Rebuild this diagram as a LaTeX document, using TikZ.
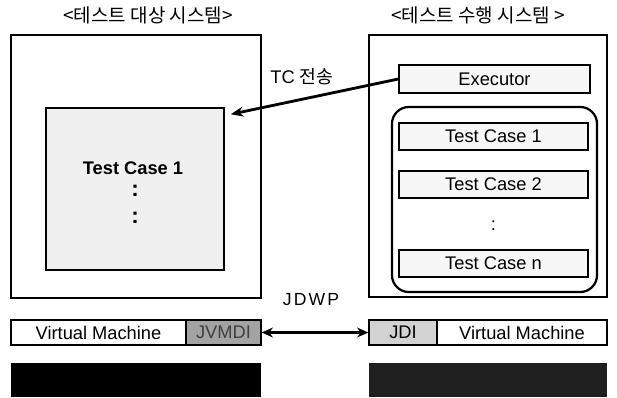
\documentclass[tikz,border=0pt]{standalone}
\usepackage{fontspec}
\setmainfont{Liberation Sans}
\newfontfamily\krfont{Noto Sans CJK KR}
\usepackage{xcolor}
\usetikzlibrary{arrows.meta,positioning,calc}

\tikzset{
  sysbox/.style={draw, line width=1.1pt, inner sep=0pt},
  casebox/.style={draw, line width=0.9pt, fill=gray!6, inner sep=0pt, minimum width=4.725cm, minimum height=0.675cm, font=\fontsize{13}{15}\selectfont},
  vmbox/.style={draw, line width=0.9pt, inner sep=0pt, minimum height=0.625cm, font=\fontsize{13}{15}\selectfont},
  hwbar/.style={fill=black, inner sep=0pt, minimum width=6.25cm, minimum height=0.85cm},
  vdots/.style={font=\fontsize{16}{19}\selectfont\bfseries, inner sep=0pt, align=center},
}

\begin{document}
\begin{tikzpicture}[x=0.025cm, y=-0.025cm]
  % Bounding box
  \useasboundingbox (0, 0) rectangle (617, 397);

  % Titles
  \node[font=\krfont\fontsize{13.5}{16}\selectfont] (ttarget) at (148, 15) {<테스트 대상 시스템>};
  \node[font=\krfont\fontsize{13.5}{16}\selectfont] (trunner) at (478, 15) {<테스트 수행 시스템 >};

  % Target system
  \node[sysbox, minimum width=6.25cm, minimum height=6.575cm] (target) at (136, 166.5) {};
  \node[draw, line width=1pt, fill=gray!12, minimum width=4.45cm, minimum height=4.05cm, inner sep=0pt] (loaded) at (135, 189) {};
  \node[font=\fontsize{13}{15}\selectfont\bfseries, inner sep=0pt] (lcase) at (133, 168) {Test Case 1};
  \node[vdots] (ldots) at (135, 204) {:\\:};

  % Runner system
  \node[sysbox, minimum width=5.95cm, minimum height=6.55cm] (runner) at (488, 166) {};
  \node[draw, line width=0.9pt, fill=gray!6, minimum width=4.775cm, minimum height=0.7cm, inner sep=0pt, font=\fontsize{13}{15}\selectfont] (exec) at (494.5, 79) {Executor};
  \node[draw, line width=1.6pt, rounded corners=12pt, minimum width=5.125cm, minimum height=4.625cm, inner sep=0pt] (suite) at (494.5, 199.5) {};
  \node[casebox] (case1) at (493.5, 136.5) {Test Case 1};
  \node[casebox] (case2) at (493.5, 184.5) {Test Case 2};
  \node[font=\fontsize{13}{15}\selectfont] (rdots) at (493.5, 226) {:};
  \node[casebox] (casen) at (493.5, 263.5) {Test Case n};

  % TC transfer
  \draw[line width=2pt, -{Stealth[length=9pt, width=7pt]}] (exec.west) -- ($(loaded.north east)+(6, 7)$);
  \node[font=\fontsize{13}{15}\selectfont] (tclabel) at (302, 77) {TC {\krfont 전송}};

  % Virtual machines
  \node[vmbox, minimum width=4.375cm] (lvm) at (98.5, 332.5) {Virtual Machine};
  \node[vmbox, fill=gray!72, text=black!75, minimum width=1.875cm] (jvmdi) at (223.5, 332.5) {JVMDI};
  \node[vmbox, fill=gray!35, minimum width=1.7cm] (jdi) at (403, 332.5) {JDI};
  \node[vmbox, minimum width=4.25cm] (rvm) at (522, 332.5) {Virtual Machine};

  % JDWP link
  \draw[line width=1.6pt, {Stealth[length=8pt, width=7pt]}-{Stealth[length=8pt, width=7pt]}] (jvmdi.east) -- (jdi.west);
  \node[font=\fontsize{12.5}{14}\selectfont] (jdwp) at (311, 300) {J\kern1.5pt D\kern1.5pt W\kern1.5pt P};

  % Hardware
  \node[hwbar] (lhw) at (136, 379.5) {};
  \node[hwbar, fill=black!88, minimum width=5.95cm] (rhw) at (488, 379.5) {};
\end{tikzpicture}
\end{document}
